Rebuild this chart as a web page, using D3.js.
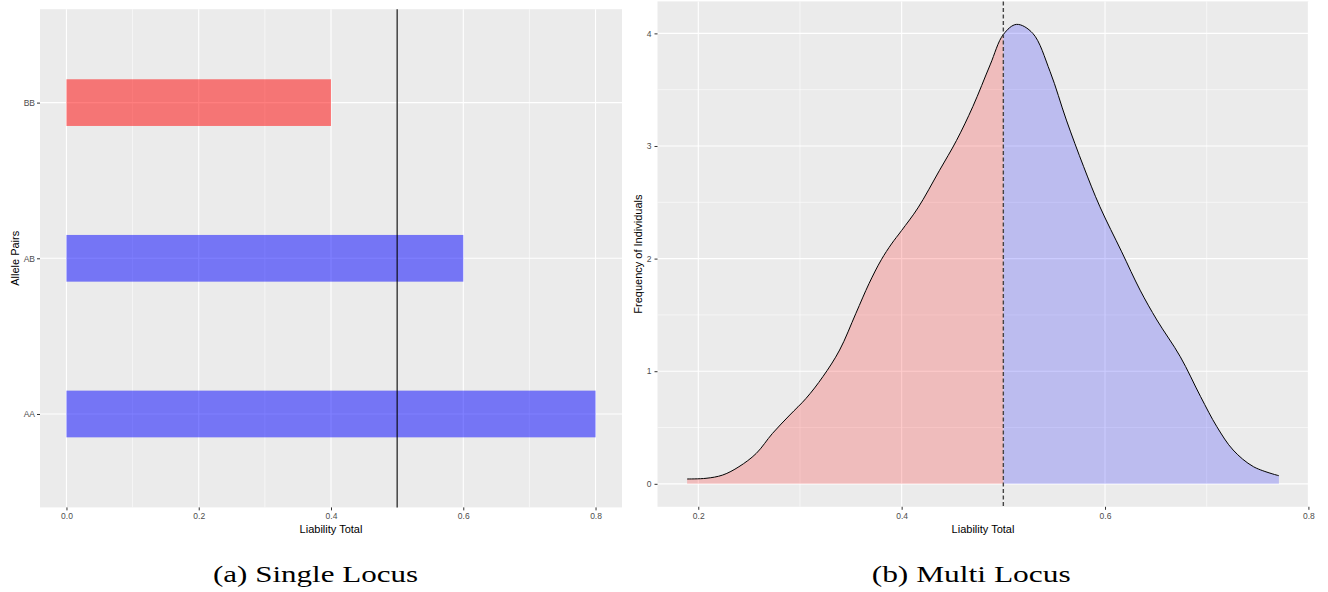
<!DOCTYPE html>
<html>
<head>
<meta charset="utf-8">
<script src="https://cdn.jsdelivr.net/npm/d3@7"></script>
<style>
  html, body { margin: 0; padding: 0; background: #ffffff; }
  svg { display: block; }
  .tick text { font-family: "Liberation Sans", Arial, sans-serif; fill: #4D4D4D; }
  .tick line { stroke: #333333; }
  .axis-title { font-family: "Liberation Sans", Arial, sans-serif; font-size: 11px; fill: #000; }
  .caption { font-family: "Liberation Serif", "Times New Roman", serif; font-size: 24px; fill: #000; }
</style>
</head>
<body>
<script>
// ---- Single-locus model: liability contributed by each allele pair ----
const allelePairs = ["BB", "AB", "AA"];
const pairLiability = [0.4, 0.6, 0.8];

// ---- Multi-locus model: density of total liability across individuals ----
const liabilityGrid = [0.189, 0.2076, 0.224, 0.240, 0.257, 0.273, 0.290, 0.306, 0.3225, 0.339,
  0.355, 0.368, 0.380, 0.390, 0.400, 0.416, 0.437, 0.454, 0.470, 0.487, 0.500,
  0.513, 0.529, 0.546, 0.562, 0.579, 0.595, 0.6164, 0.6345, 0.651, 0.674,
  0.694, 0.710, 0.726, 0.746, 0.771];
const individualDensity = [0.043, 0.049, 0.078, 0.152, 0.27, 0.448, 0.611, 0.759, 0.951, 1.188,
  1.514, 1.78, 1.99, 2.13, 2.25, 2.45, 2.78, 3.05, 3.35, 3.72, 3.99,
  4.08, 4.00, 3.66, 3.23, 2.816, 2.46, 2.06, 1.72, 1.455, 1.129,
  0.774, 0.507, 0.30, 0.152, 0.072];

// Threshold separating affected from unaffected liability
const threshold = 0.5;

// Tick values
const singleXTicks = [0.0, 0.2, 0.4, 0.6, 0.8];
const singleXMinor = [0.1, 0.3, 0.5, 0.7];
const multiXTicks = [0.2, 0.4, 0.6, 0.8];
const multiXMinor = [0.3, 0.5, 0.7];
const multiYTicks = [0, 1, 2, 3, 4];
const multiYMinor = [0.5, 1.5, 2.5, 3.5];

const W = 1328, H = 592;
const svg = d3.select("body").append("svg").attr("width", W).attr("height", H);
svg.append("rect").attr("width", W).attr("height", H).attr("fill", "#ffffff");

const PANEL_BG = "#EBEBEB";
const RED = "rgb(255,0,0)", BLUE = "rgb(0,0,255)";

function styleAxis(g, fontSize) {
  g.select(".domain").remove();
  g.selectAll(".tick text").style("font-size", fontSize + "px");
  g.selectAll(".tick line").attr("stroke", "#333333").attr("stroke-width", 1);
}

// ================= Panel (a): single locus =================
{
  const left = 40, right = 622, top = 9.2, bottom = 507.4;
  const x = d3.scaleLinear().domain([-0.04, 0.84]).range([left, right]);
  const y = d3.scalePoint().domain(allelePairs).range([top, bottom]).padding(0.6);
  const barH = y.step() * 0.3;

  const g = svg.append("g");
  g.append("rect").attr("x", left).attr("y", top)
    .attr("width", right - left).attr("height", bottom - top).attr("fill", PANEL_BG);

  g.selectAll(".minor-x").data(singleXMinor).join("line")
    .attr("x1", d => x(d)).attr("x2", d => x(d)).attr("y1", top).attr("y2", bottom)
    .attr("stroke", "#ffffff").attr("stroke-width", 0.55);
  g.selectAll(".major-x").data(singleXTicks).join("line")
    .attr("x1", d => x(d)).attr("x2", d => x(d)).attr("y1", top).attr("y2", bottom)
    .attr("stroke", "#ffffff").attr("stroke-width", 1.1);
  g.selectAll(".major-y").data(allelePairs).join("line")
    .attr("x1", left).attr("x2", right).attr("y1", d => y(d)).attr("y2", d => y(d))
    .attr("stroke", "#ffffff").attr("stroke-width", 1.1);

  const bars = allelePairs.map((p, i) => ({ pair: p, value: pairLiability[i] }));
  g.selectAll(".bar").data(bars).join("rect")
    .attr("x", x(0)).attr("y", d => y(d.pair) - barH / 2)
    .attr("width", d => x(d.value) - x(0)).attr("height", barH)
    .attr("fill", d => d.value < threshold ? RED : BLUE)
    .attr("fill-opacity", 0.5);

  g.append("line")
    .attr("x1", x(threshold)).attr("x2", x(threshold)).attr("y1", top).attr("y2", bottom)
    .attr("stroke", "#000000").attr("stroke-width", 1.1);

  const xAxis = g.append("g").attr("transform", `translate(0,${bottom})`)
    .call(d3.axisBottom(x).tickValues(singleXTicks).tickFormat(d3.format(".1f")).tickSize(3).tickPadding(3));
  styleAxis(xAxis, 8.5);

  const yAxis = g.append("g").attr("transform", `translate(${left},0)`)
    .call(d3.axisLeft(y).tickSize(3).tickPadding(2));
  styleAxis(yAxis, 8.5);

  g.append("text").attr("class", "axis-title")
    .attr("x", (left + right) / 2).attr("y", 533).attr("text-anchor", "middle")
    .text("Liability Total");
  g.append("text").attr("class", "axis-title")
    .attr("transform", `translate(18.8,${(top + bottom) / 2}) rotate(-90)`)
    .attr("text-anchor", "middle").text("Allele Pairs");

  g.append("text").attr("class", "caption")
    .attr("x", 213).attr("y", 582)
    .attr("textLength", 205).attr("lengthAdjust", "spacingAndGlyphs")
    .text("(a) Single Locus");
}

// ================= Panel (b): multi locus =================
{
  const left = 657.5, right = 1308.5, top = 1.4, bottom = 506.8;
  const x = d3.scaleLinear().domain([0.1599, 0.8001]).range([left, right]);
  const y = d3.scaleLinear().domain([-0.204, 4.284]).range([bottom, top]);

  const g = svg.append("g");
  g.append("rect").attr("x", left).attr("y", top)
    .attr("width", right - left).attr("height", bottom - top).attr("fill", PANEL_BG);

  g.selectAll(".minor-x").data(multiXMinor).join("line")
    .attr("x1", d => x(d)).attr("x2", d => x(d)).attr("y1", top).attr("y2", bottom)
    .attr("stroke", "#ffffff").attr("stroke-width", 0.55);
  g.selectAll(".minor-y").data(multiYMinor).join("line")
    .attr("x1", left).attr("x2", right).attr("y1", d => y(d)).attr("y2", d => y(d))
    .attr("stroke", "#ffffff").attr("stroke-width", 0.55);
  g.selectAll(".major-x").data(multiXTicks).join("line")
    .attr("x1", d => x(d)).attr("x2", d => x(d)).attr("y1", top).attr("y2", bottom)
    .attr("stroke", "#ffffff").attr("stroke-width", 1.1);
  g.selectAll(".major-y").data(multiYTicks).join("line")
    .attr("x1", left).attr("x2", right).attr("y1", d => y(d)).attr("y2", d => y(d))
    .attr("stroke", "#ffffff").attr("stroke-width", 1.1);

  const pts = liabilityGrid.map((v, i) => ({ x: v, y: individualDensity[i] }));
  const curve = d3.curveCatmullRom.alpha(0.5);
  const area = d3.area().x(d => x(d.x)).y0(y(0)).y1(d => y(d.y)).curve(curve);
  const line = d3.line().x(d => x(d.x)).y(d => y(d.y)).curve(curve);

  const defs = svg.append("defs");
  defs.append("clipPath").attr("id", "below-threshold").append("rect")
    .attr("x", left).attr("y", top).attr("width", x(threshold) - left).attr("height", bottom - top);
  defs.append("clipPath").attr("id", "above-threshold").append("rect")
    .attr("x", x(threshold)).attr("y", top).attr("width", right - x(threshold)).attr("height", bottom - top);

  g.append("path").datum(pts).attr("d", area)
    .attr("fill", RED).attr("fill-opacity", 0.2).attr("clip-path", "url(#below-threshold)");
  g.append("path").datum(pts).attr("d", area)
    .attr("fill", BLUE).attr("fill-opacity", 0.2).attr("clip-path", "url(#above-threshold)");
  g.append("path").datum(pts).attr("d", line)
    .attr("fill", "none").attr("stroke", "#000000").attr("stroke-width", 1);

  g.append("line")
    .attr("x1", x(threshold)).attr("x2", x(threshold)).attr("y1", top).attr("y2", bottom)
    .attr("stroke", "#444444").attr("stroke-width", 1.4).attr("stroke-dasharray", "4,2.5");

  const xAxis = g.append("g").attr("transform", `translate(0,${bottom})`)
    .call(d3.axisBottom(x).tickValues(multiXTicks).tickFormat(d3.format(".1f")).tickSize(3).tickPadding(3));
  styleAxis(xAxis, 8.5);

  const yAxis = g.append("g").attr("transform", `translate(${left},0)`)
    .call(d3.axisLeft(y).tickValues(multiYTicks).tickFormat(d3.format("d")).tickSize(3).tickPadding(3));
  styleAxis(yAxis, 8.5);

  g.append("text").attr("class", "axis-title")
    .attr("x", (left + right) / 2).attr("y", 533).attr("text-anchor", "middle")
    .text("Liability Total");
  g.append("text").attr("class", "axis-title")
    .attr("transform", `translate(641.5,${(top + bottom) / 2}) rotate(-90)`)
    .attr("text-anchor", "middle").text("Frequency of Individuals");

  g.append("text").attr("class", "caption")
    .attr("x", 871.7).attr("y", 582)
    .attr("textLength", 199).attr("lengthAdjust", "spacingAndGlyphs")
    .text("(b) Multi Locus");
}
</script>
</body>
</html>
